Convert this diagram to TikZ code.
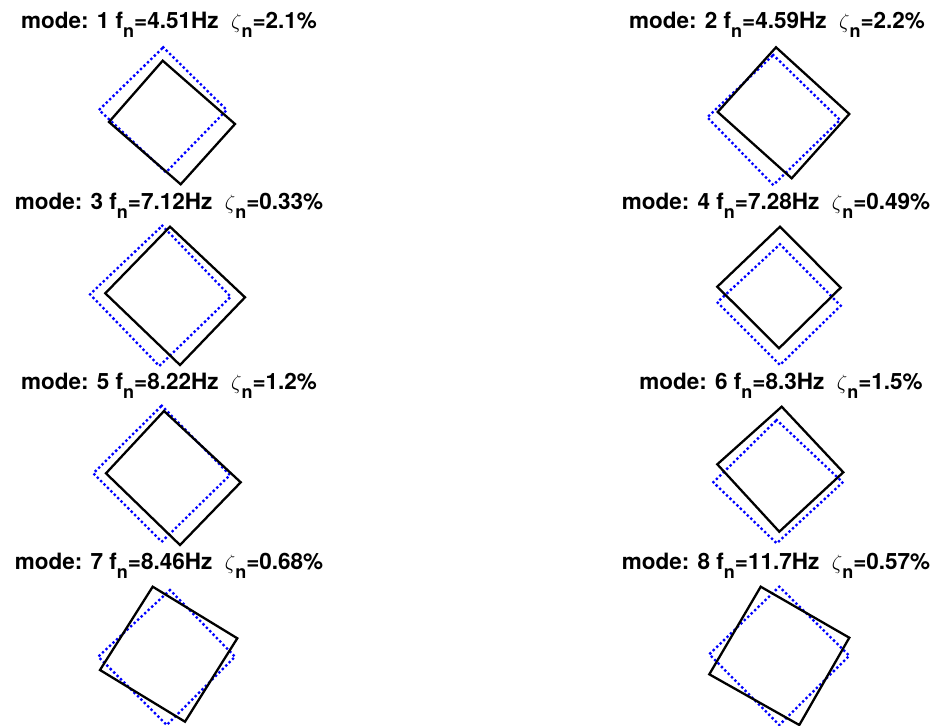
\documentclass[tikz,border=0pt]{standalone}
\usepackage{fontspec}
\setmainfont{TeX Gyre Heros}
\usepackage{xcolor}
\usepackage{tikz}
\definecolor{dotblue}{RGB}{0,0,255}
\tikzset{
  modeline/.style={line width=2.3pt, draw=black, line join=miter},
  refline/.style={line width=3.3pt, draw=dotblue, dash pattern=on 0pt off 4.8pt, line cap=round},
  ttl/.style={font=\bfseries\fontsize{22.5}{22.5}\selectfont, anchor=base, inner sep=0pt}
}
\newcommand{\lowsub}[1]{\raisebox{-0.42em}{\fontsize{18}{18}\selectfont #1}}

\begin{document}
\begin{tikzpicture}[x=1pt,y=-1pt]
  \useasboundingbox (0,0) rectangle (943,726);

  % mode 1
  \node[ttl] (t1) at (169,28) {mode: 1 f\lowsub{n}=4.51Hz\ \ $\zeta$\lowsub{n}=2.1\%};
  \draw[refline] (163.3,47.3) -- (226.7,110) -- (166,172.3) -- (99,110) -- cycle;
  \draw[modeline] (162.7,60.7) -- (235,124) -- (180.7,184.3) -- (109,122) -- cycle;

  % mode 2
  \node[ttl] (t2) at (777,28) {mode: 2 f\lowsub{n}=4.59Hz\ \ $\zeta$\lowsub{n}=2.2\%};
  \draw[refline] (773.3,55) -- (840,120) -- (773.3,185) -- (707.3,117.3) -- cycle;
  \draw[modeline] (776,47.3) -- (849.3,114) -- (791.7,178.3) -- (717.7,112) -- cycle;

  % mode 3
  \node[ttl] (t3) at (169,209) {mode: 3 f\lowsub{n}=7.12Hz\ \ $\zeta$\lowsub{n}=0.33\%};
  \draw[refline] (162.3,225.7) -- (230.7,296.7) -- (159.3,366) -- (90,294.3) -- cycle;
  \draw[modeline] (170,226.7) -- (245,297.3) -- (180,365) -- (105.3,293.3) -- cycle;

  % mode 4
  \node[ttl] (t4) at (776,209) {mode: 4 f\lowsub{n}=7.28Hz\ \ $\zeta$\lowsub{n}=0.49\%};
  \draw[refline] (780,244.3) -- (840.7,305.7) -- (780,365) -- (717.3,302.3) -- cycle;
  \draw[modeline] (780,226.7) -- (840.7,287.7) -- (779,348.3) -- (717.3,286.7) -- cycle;

  % mode 5
  \node[ttl] (t5) at (169,389) {mode: 5 f\lowsub{n}=8.22Hz\ \ $\zeta$\lowsub{n}=1.2\%};
  \draw[refline] (161.7,405.7) -- (230,475) -- (161.7,541.7) -- (93.3,473.3) -- cycle;
  \draw[modeline] (164,411) -- (240.7,482.3) -- (180,545) -- (106,473.3) -- cycle;

  % mode 6
  \node[ttl] (t6) at (781,389) {mode: 6 f\lowsub{n}=8.3Hz\ \ $\zeta$\lowsub{n}=1.5\%};
  \draw[refline] (776.7,420) -- (842.7,482.3) -- (776.7,543.3) -- (713.3,482.3) -- cycle;
  \draw[modeline] (781.7,406.7) -- (843.3,472.3) -- (779.3,531.7) -- (717.3,464.3) -- cycle;

  % mode 7
  \node[ttl] (t7) at (169,569) {mode: 7 f\lowsub{n}=8.46Hz\ \ $\zeta$\lowsub{n}=0.68\%};
  \draw[refline] (170,590) -- (235,656.7) -- (166.7,725) -- (98.3,656.7) -- cycle;
  \draw[modeline] (152.7,586.7) -- (237.3,638.3) -- (185,721.7) -- (100,670) -- cycle;

  % mode 8
  \node[ttl] (t8) at (776,569) {mode: 8 f\lowsub{n}=11.7Hz\ \ $\zeta$\lowsub{n}=0.57\%};
  \draw[refline] (779.3,586.7) -- (849.3,655.7) -- (779.3,725) -- (709.3,654.3) -- cycle;
  \draw[modeline] (760.7,586.7) -- (849.3,637.7) -- (799.3,725) -- (709.3,674.3) -- cycle;
\end{tikzpicture}
\end{document}
